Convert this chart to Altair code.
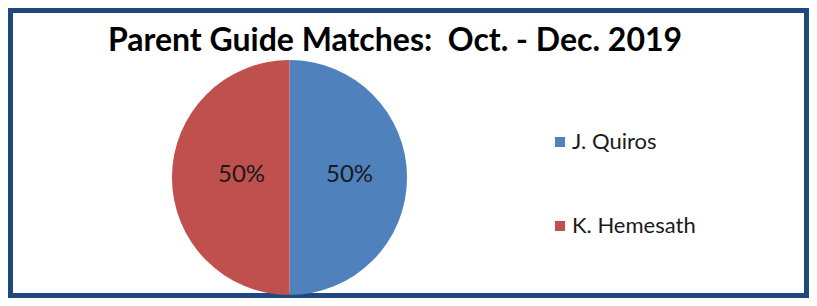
import altair as alt
import pandas as pd

# ---- data ----
title_text = "Parent Guide Matches:\u00a0\u00a0Oct. - Dec. 2019"
names = ["J. Quiros", "K. Hemesath"]
values = [50, 50]
colors = ["#4F81BD", "#C0504D"]

df = pd.DataFrame({"name": names, "value": values, "order": list(range(len(names)))})
title_df = pd.DataFrame({"t": [title_text]})

CX, CY, R = 281.5, 169.5, 117.5

base = alt.Chart(df).transform_joinaggregate(
    total="sum(value)"
).transform_calculate(
    pct="datum.value / datum.total"
)

pie = base.mark_arc(radius=R, stroke="white", strokeWidth=0).encode(
    theta=alt.Theta("value:Q", stack=True),
    order=alt.Order("order:Q"),
    x=alt.value(CX),
    y=alt.value(CY),
    color=alt.Color(
        "name:N",
        scale=alt.Scale(domain=names, range=colors),
        sort=names,
        legend=alt.Legend(
            orient="none",
            legendX=541,
            legendY=123,
            title=None,
            symbolType="square",
            symbolSize=100,
            symbolStrokeWidth=0,
            labelFont="Lato",
            labelFontSize=22,
            labelColor="#1a1a1a",
            labelOffset=1,
            rowPadding=62,
            padding=0,
        ),
    ),
)

labels = base.mark_text(
    radius=54, dx=6, dy=-3, font="Lato", fontSize=24, color="#1a1a1a",
    align="center", baseline="middle"
).encode(
    theta=alt.Theta("value:Q", stack=True),
    order=alt.Order("order:Q"),
    x=alt.value(CX),
    y=alt.value(CY),
    text=alt.Text("pct:Q", format=".0%"),
)

title = alt.Chart(title_df).mark_text(
    font="Lato", fontSize=32, fontWeight="bold", color="#000000",
    align="center", baseline="alphabetic"
).encode(
    x=alt.value(387),
    y=alt.value(43),
    text="t:N",
)

chart = alt.layer(pie, labels, title).properties(
    width=801,
    height=290,
    autosize=alt.AutoSizeParams(type="none"),
    padding=0,
    background="white",
).configure_view(
    stroke="#1F497D",
    strokeWidth=10,
)

chart.save("out.html", embed_options={"renderer": "svg", "actions": False})
